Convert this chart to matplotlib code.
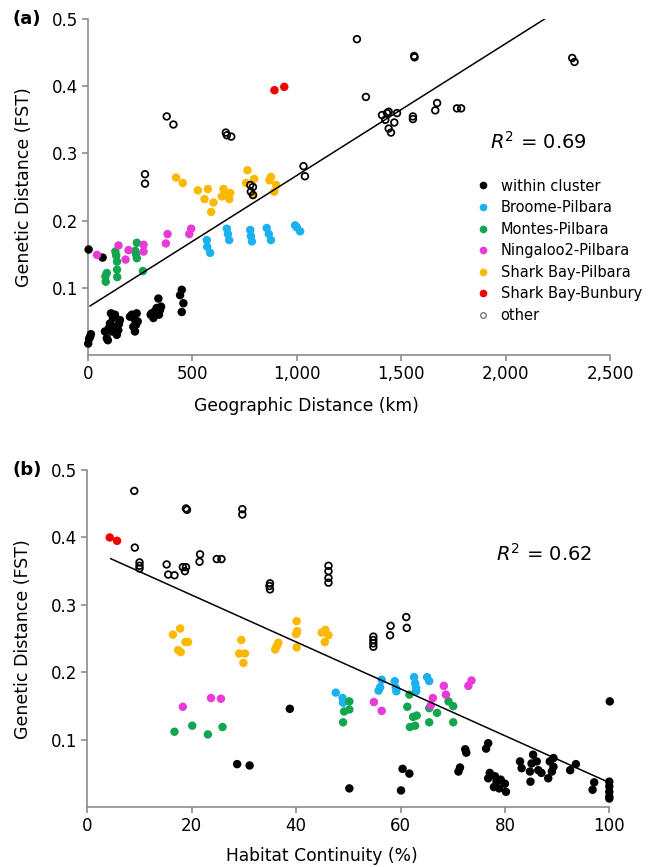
import numpy as np
import matplotlib.pyplot as plt

# group names and colours (same for both panels)
groups = ['within cluster', 'Broome-Pilbara', 'Montes-Pilbara', 'Ningaloo2-Pilbara',
          'Shark Bay-Pilbara', 'Shark Bay-Bunbury', 'other']
colors = ['black', '#1cb1ec', '#12a650', '#e83ad6', '#fbb800', '#f00000', 'none']

# (a) geographic distance (km) vs FST
geo_within = [(3, 0.157), (70, 0.145),
              (1, 0.017), (5, 0.024), (10, 0.027), (14, 0.031),
              (81, 0.035), (90, 0.025), (95, 0.022), (100, 0.040),
              (105, 0.047), (110, 0.062), (114, 0.035), (120, 0.055), (129, 0.060), (129, 0.042),
              (138, 0.030), (145, 0.037), (153, 0.052), (148, 0.046),
              (201, 0.057), (210, 0.060), (217, 0.042), (225, 0.052), (225, 0.035), (233, 0.062),
              (238, 0.050), (230, 0.045),
              (300, 0.060), (305, 0.062), (313, 0.055), (320, 0.065), (329, 0.070), (337, 0.084),
              (345, 0.067), (340, 0.060), (350, 0.072),
              (441, 0.089), (449, 0.097), (457, 0.077), (449, 0.064)]
geo_broome = [(569, 0.171), (571, 0.161), (585, 0.152), (665, 0.188), (670, 0.180), (676, 0.171),
              (777, 0.186), (780, 0.177), (785, 0.169), (856, 0.189), (866, 0.180), (876, 0.171),
              (992, 0.193), (1000, 0.190), (1016, 0.184)]
geo_montes = [(83, 0.117), (85, 0.109), (90, 0.122), (131, 0.154), (135, 0.148), (139, 0.139),
              (139, 0.127), (140, 0.116), (226, 0.155), (230, 0.150), (234, 0.167), (234, 0.144),
              (263, 0.125)]
geo_ningaloo = [(43, 0.149), (146, 0.163), (180, 0.142), (194, 0.156), (266, 0.164), (266, 0.154),
                (373, 0.166), (381, 0.180), (485, 0.180), (494, 0.188)]
geo_sbpil = [(422, 0.264), (454, 0.256), (526, 0.245), (574, 0.247), (558, 0.232), (601, 0.227),
             (590, 0.213), (649, 0.247), (657, 0.238), (681, 0.241), (677, 0.232), (641, 0.236),
             (764, 0.275), (757, 0.256), (796, 0.262), (792, 0.238), (869, 0.260), (876, 0.265),
             (901, 0.253), (892, 0.243)]
geo_sbbun = [(893, 0.394), (940, 0.399)]
geo_other = [(273, 0.269), (273, 0.255), (377, 0.355), (409, 0.343), (660, 0.331), (665, 0.327),
             (686, 0.325), (777, 0.253), (790, 0.250), (780, 0.243), (790, 0.238), (1032, 0.281),
             (1039, 0.266), (1288, 0.470), (1331, 0.384), (1408, 0.357), (1424, 0.350),
             (1432, 0.360), (1440, 0.362), (1440, 0.337), (1451, 0.331), (1467, 0.346),
             (1480, 0.360), (1556, 0.355), (1556, 0.351), (1562, 0.445), (1564, 0.443),
             (1663, 0.364), (1672, 0.375), (1767, 0.367), (1787, 0.367), (2319, 0.442), (2330, 0.436)]
geo_fit_x = [10, 2187]
geo_fit_y = [0.073, 0.500]

# (b) habitat continuity (%) vs FST
hab_within = [(38.8, 0.146), (28.7, 0.064), (31.1, 0.062), (50.2, 0.028), (60.1, 0.025),
              (60.4, 0.057), (61.7, 0.050), (71.1, 0.053), (71.4, 0.059), (72.4, 0.086), (72.6, 0.081),
              (76.4, 0.087), (76.8, 0.095), (77.1, 0.051), (76.8, 0.043), (78.1, 0.046), (78.4, 0.038),
              (79.2, 0.041), (80.0, 0.035), (77.9, 0.030), (78.9, 0.028), (80.2, 0.023),
              (82.9, 0.068), (83.2, 0.058), (85.4, 0.078), (85.1, 0.065), (84.8, 0.053), (84.9, 0.038),
              (86.1, 0.068), (86.4, 0.055), (87.0, 0.051), (88.3, 0.043), (88.6, 0.068), (89.3, 0.073),
              (89.3, 0.060), (89.0, 0.053), (92.5, 0.055), (93.6, 0.064), (97.1, 0.037), (96.8, 0.026),
              (100.1, 0.157), (100, 0.038), (100, 0.031), (100, 0.023), (100, 0.016), (100, 0.013)]
hab_broome = [(47.6, 0.170), (48.9, 0.162), (49.0, 0.155), (55.8, 0.173), (56.1, 0.178),
              (56.4, 0.189), (58.9, 0.187), (59.1, 0.177), (59.2, 0.172), (62.6, 0.193),
              (62.8, 0.184), (63.0, 0.177), (63.0, 0.172), (65.1, 0.193), (65.5, 0.187)]
hab_montes = [(16.7, 0.112), (20.1, 0.121), (23.1, 0.108), (25.9, 0.119), (49.0, 0.126),
              (49.2, 0.142), (50.2, 0.145), (50.2, 0.157), (61.3, 0.149), (61.7, 0.167),
              (61.8, 0.119), (62.4, 0.134), (62.8, 0.121), (63.1, 0.136), (65.5, 0.147),
              (65.5, 0.126), (67.0, 0.140), (69.2, 0.157), (70.1, 0.150), (70.1, 0.126)]
hab_ningaloo = [(18.3, 0.149), (23.7, 0.162), (25.6, 0.161), (54.9, 0.156), (56.4, 0.143),
                (65.8, 0.151), (66.2, 0.162), (68.3, 0.180), (68.7, 0.167), (73.0, 0.180), (73.6, 0.188)]
hab_sbpil = [(16.4, 0.256), (17.8, 0.265), (18.8, 0.245), (19.3, 0.245), (17.4, 0.233), (17.9, 0.230),
             (29.5, 0.248), (29.1, 0.228), (30.2, 0.228), (29.9, 0.214), (36.0, 0.234), (36.6, 0.244),
             (36.3, 0.239), (40.1, 0.276), (40.2, 0.261), (40.0, 0.257), (40.1, 0.237),
             (44.9, 0.259), (45.6, 0.263), (46.2, 0.255), (45.5, 0.245)]
hab_sbbun = [(4.3, 0.400), (5.7, 0.395)]
hab_other = [(9.0, 0.469), (9.1, 0.385), (10.0, 0.363), (10.0, 0.358), (10.0, 0.354), (15.2, 0.360),
             (15.5, 0.345), (16.7, 0.344), (18.3, 0.356), (18.9, 0.356), (18.7, 0.350), (18.9, 0.443),
             (19.1, 0.441), (21.6, 0.375), (21.5, 0.364), (24.8, 0.368), (25.7, 0.368), (29.7, 0.442),
             (29.7, 0.434), (35.0, 0.332), (34.9, 0.328), (35.0, 0.323), (46.2, 0.358), (46.2, 0.350),
             (46.2, 0.340), (46.2, 0.333), (54.8, 0.253), (54.8, 0.248), (54.8, 0.243), (54.8, 0.238),
             (58.1, 0.269), (58.0, 0.255), (61.1, 0.282), (61.2, 0.266)]
hab_fit_x = [4.5, 100]
hab_fit_y = [0.3685, 0.0366]

geo_ticks = [0, 500, 1000, 1500, 2000, 2500]
geo_ticklabels = ['0', '500', '1,000', '1,500', '2,000', '2,500']
hab_ticks = [0, 20, 40, 60, 80, 100]
y_ticks = [0.1, 0.2, 0.3, 0.4, 0.5]

spine_col = '#8c8c8c'


def draw_panel(ax, sets, fit_x, fit_y):
    for pts, name, col in zip(sets, groups, colors):
        x, y = zip(*pts)
        if name == 'other':
            ax.scatter(x, y, s=23, facecolors='none', edgecolors='black', linewidths=1.25,
                       clip_on=False, zorder=4)
        else:
            ax.scatter(x, y, s=37, color=col, edgecolors='none', clip_on=False, zorder=3)
    ax.plot(fit_x, fit_y, color='black', lw=1.1, zorder=5)
    ax.set_ylim(0, 0.5)
    ax.set_yticks(y_ticks)
    ax.set_yticklabels(['0.1', '0.2', '0.3', '0.4', '0.5'])
    for s in ['top', 'right']:
        ax.spines[s].set_visible(False)
    for s in ['left', 'bottom']:
        ax.spines[s].set_color(spine_col)
        ax.spines[s].set_linewidth(1.2)
    ax.tick_params(direction='out', length=4, width=1.2, color=spine_col,
                   labelsize=12, labelcolor='black', pad=3)


fig = plt.figure(figsize=(6.48, 8.67), dpi=100)

# panel (a)
ax1 = fig.add_axes([88 / 648, 1 - 355 / 867, 522 / 648, 336 / 867])
draw_panel(ax1, [geo_within, geo_broome, geo_montes, geo_ningaloo, geo_sbpil, geo_sbbun, geo_other],
           geo_fit_x, geo_fit_y)
ax1.set_xlim(0, 2500)
ax1.set_xticks(geo_ticks)
ax1.set_xticklabels(geo_ticklabels)
ax1.set_xlabel('Geographic Distance (km)', fontsize=12.3)
ax1.set_ylabel('Genetic Distance (FST)', fontsize=12.5)
ax1.xaxis.set_label_coords(0.418, -0.125)
ax1.yaxis.set_label_coords(-0.105, 0.5)
ax1.text(1925, 0.317, r'$R^2$ = 0.69', fontsize=14, va='center', ha='left')

# legend (a)
handles = []
for name, col in zip(groups, colors):
    if name == 'other':
        h, = ax1.plot([], [], 'o', ms=4, mfc='none', mec='#777777', mew=1.0, ls='none')
    else:
        h, = ax1.plot([], [], 'o', ms=4.5, color=col, ls='none')
    handles.append(h)
ax1.legend(handles, groups, loc='upper left', bbox_to_anchor=(0.743, 0.525), frameon=False,
           fontsize=10.5, handlelength=1.0, handletextpad=0.7, labelspacing=0.45,
           borderpad=0, borderaxespad=0)

# panel (b)
ax2 = fig.add_axes([87.3 / 648, 1 - 807.3 / 867, 522 / 648, 337.3 / 867])
draw_panel(ax2, [hab_within, hab_broome, hab_montes, hab_ningaloo, hab_sbpil, hab_sbbun, hab_other],
           hab_fit_x, hab_fit_y)
ax2.set_xlim(0, 100)
ax2.set_xticks(hab_ticks)
ax2.set_xlabel('Habitat Continuity (%)', fontsize=12.3)
ax2.set_ylabel('Genetic Distance (FST)', fontsize=12.5)
ax2.xaxis.set_label_coords(0.45, -0.118)
ax2.yaxis.set_label_coords(-0.105, 0.5)
ax2.text(78.3, 0.375, r'$R^2$ = 0.62', fontsize=14, va='center', ha='left')

fig.text(13 / 648, 1 - 19 / 867, '(a)', fontsize=13, fontweight='bold', va='center', ha='left')
fig.text(13 / 648, 1 - 470 / 867, '(b)', fontsize=13, fontweight='bold', va='center', ha='left')

fig.savefig('out.png', dpi=100)
